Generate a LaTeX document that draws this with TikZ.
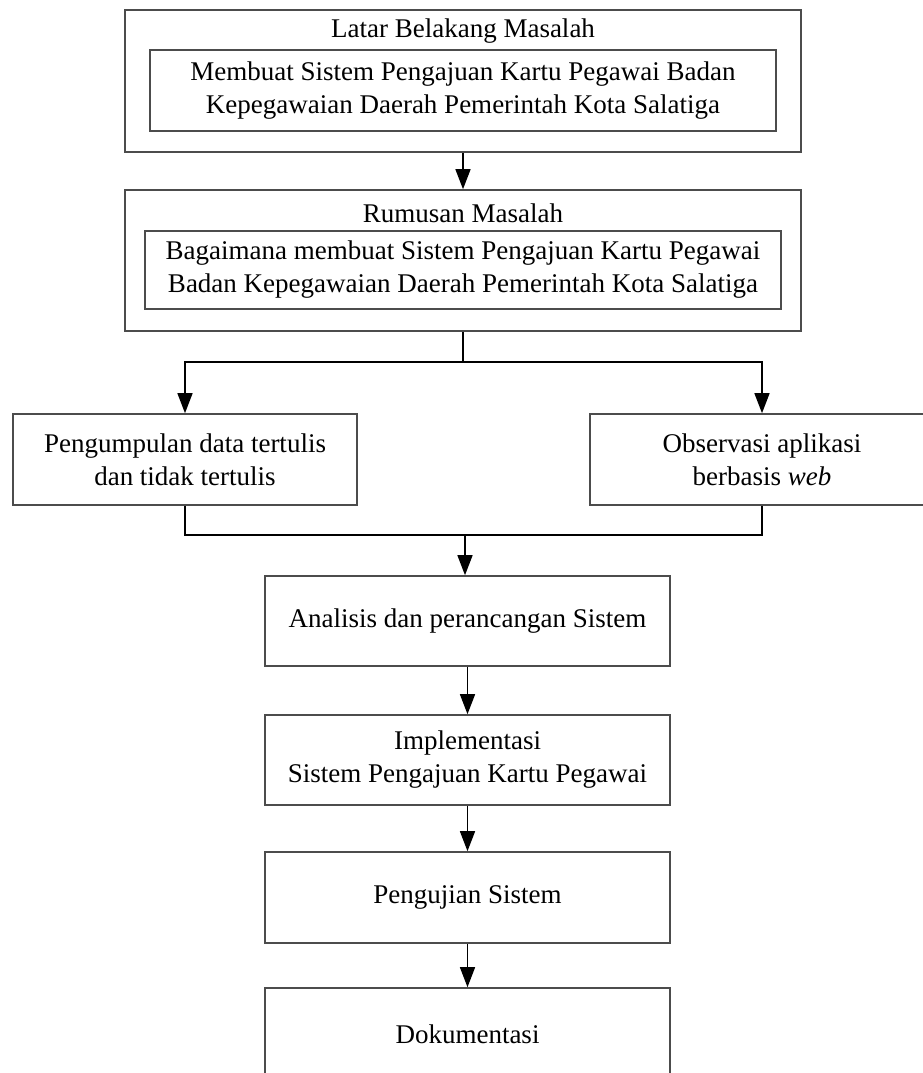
\documentclass[tikz,border=0pt]{standalone}
\usepackage{fontspec}
\setmainfont{Liberation Serif}
\usetikzlibrary{arrows.meta}
\begin{document}
\begin{tikzpicture}[x=1pt,y=-1pt,
  box/.style={draw=black!70, line width=1.6pt, inner sep=0pt, align=center, font=\fontsize{27}{33}\selectfont},
  lbl/.style={inner sep=0pt, align=center, font=\fontsize{27}{33}\selectfont},
  conn/.style={line width=1.4pt, black},
  arr/.style={conn, -{Triangle[length=20pt,width=15pt]}}]
\useasboundingbox (0,0) rectangle (923,1073);

% Latar belakang
\node[box, minimum width=676pt, minimum height=142pt] (o1) at (463,81) {};
\node[lbl] (t1) at (463,31) {Latar Belakang Masalah};
\node[box, minimum width=626pt, minimum height=81pt] (i1) at (463,90.5)
  {Membuat Sistem Pengajuan Kartu Pegawai Badan\\Kepegawaian Daerah Pemerintah Kota Salatiga};

% Rumusan masalah
\node[box, minimum width=676pt, minimum height=141pt] (o2) at (463,260.5) {};
\node[lbl] (t2) at (463,213) {Rumusan Masalah};
\node[box, minimum width=636pt, minimum height=78pt] (i2) at (463,270)
  {Bagaimana membuat Sistem Pengajuan Kartu Pegawai\\Badan Kepegawaian Daerah Pemerintah Kota Salatiga};

% two branches
\node[box, minimum width=344pt, minimum height=91pt] (p1) at (185,459.5)
  {Pengumpulan data tertulis\\dan tidak tertulis};
\node[box, minimum width=344pt, minimum height=91pt] (p2) at (762,459.5)
  {Observasi aplikasi\\berbasis \textit{web}};

% sequence
\node[box, minimum width=405pt, minimum height=90pt] (a1) at (467.5,621)
  {Analisis dan perancangan Sistem};
\node[box, minimum width=405pt, minimum height=90pt] (a2) at (467.5,760)
  {Implementasi\\Sistem Pengajuan Kartu Pegawai};
\node[box, minimum width=405pt, minimum height=91pt] (a3) at (467.5,897.5)
  {Pengujian Sistem};
\node[box, minimum width=405pt, minimum height=180pt] (a4) at (467.5,1078) {};
\node[lbl] (t4) at (467.5,1034) {Dokumentasi};

% connectors
\draw[arr] (o1.south) -- (o2.north);
\coordinate (s) at (463,362);
\draw[conn] (o2.south) -- (s);
\draw[arr] (s) -| (p1.north);
\draw[arr] (s) -| (p2.north);
\coordinate (m) at (465,535);
\draw[conn] (p1.south) |- (m) -| (p2.south);
\draw[arr] (m) -- (m |- a1.north);
\draw[arr] (a1.south) -- (a2.north);
\draw[arr] (a2.south) -- (a3.north);
\draw[arr] (a3.south) -- (a4.north);
\end{tikzpicture}
\end{document}
